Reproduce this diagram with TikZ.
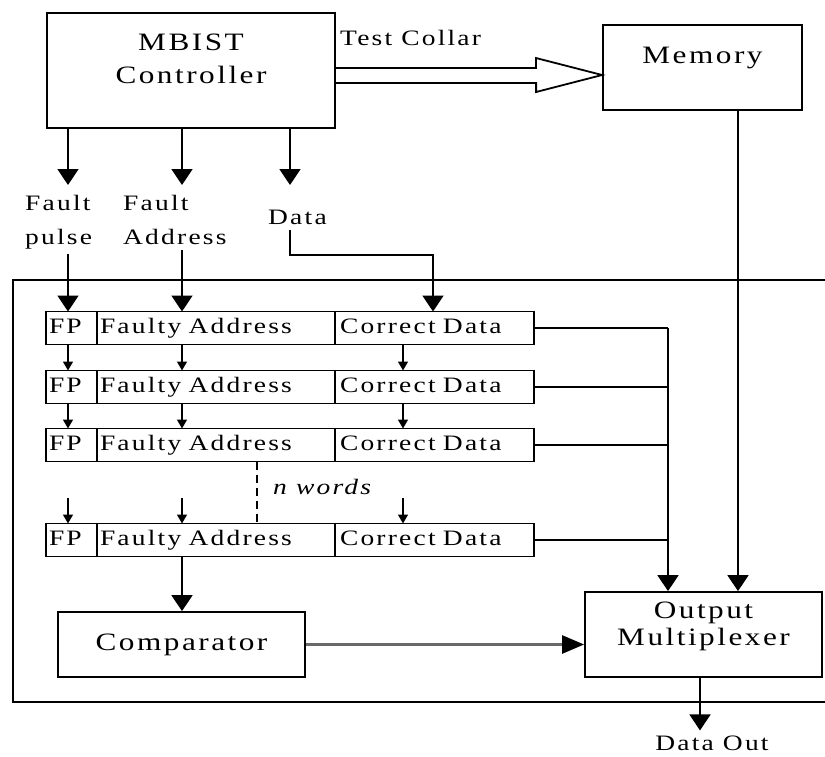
\documentclass[tikz,border=0pt]{standalone}
\usepackage{fontspec}
\setmainfont{Liberation Serif}[FakeStretch=1.25, LetterSpace=10]
\usepackage{tikz}
\usetikzlibrary{positioning, arrows.meta, calc}
\definecolor{wire}{RGB}{105,105,105}
\newcommand{\blkfont}{\fontsize{25}{33}\selectfont}
\newcommand{\cellfont}{\fontsize{22}{34}\selectfont}

\begin{document}
\begin{tikzpicture}[x=1pt, y=-1pt,
  blk/.style={draw, line width=1.8pt, align=center, font=\blkfont, inner sep=0pt},
  cell/.style={draw, line width=1.8pt, outer sep=0pt, minimum height=33pt, inner ysep=0pt, inner xsep=3pt,
    align=left, font=\cellfont, text height=15pt, text depth=5pt},
  lbl/.style={font=\cellfont, align=left, inner sep=5pt},
  arr/.style={line width=1.8pt, -{Triangle[width=21pt,length=16pt]}},
  sarr/.style={line width=1.5pt, -{Triangle[width=10pt,length=9pt]}},
  garr/.style={line width=2.6pt, draw=wire, -{Triangle[width=18pt,length=22pt,color=black]}},
  hollow/.style={line width=1.8pt, line join=miter}]
\useasboundingbox (0,0) rectangle (825,756);
% top row
\node[blk, minimum width=288pt, minimum height=115pt, text height=50pt, text depth=25pt] (mbist) at (191,70.5) {MBIST\\Controller};
\node[blk, minimum width=199pt, minimum height=85pt, text height=17pt, text depth=26pt] (memory) at (702.5,67.5) {Memory};
\node[lbl, anchor=base west, inner sep=0pt] (tclbl) at (340,45) {Test Collar};
\coordinate (ctip) at ([yshift=-7.5pt]memory.west);
\draw[hollow] ([yshift=2.5pt]mbist.east) -- ++(200,0) -- ++(0,-10) -- (ctip) -- ++(-66,17) -- ++(0,-9) -- ([yshift=-12.5pt]mbist.east);
% columns
\coordinate (xfp) at (68,0);
\coordinate (xfa) at (182,0);
\coordinate (xdat) at (290,0);
\coordinate (xdash) at (257,0);
\coordinate (xcd) at (403,0);
\coordinate (xbus) at (668,0);
\coordinate (xmem) at (738,0);
\coordinate (xout) at (700,0);
\coordinate (tips) at (0,185);
\coordinate (gap) at (0,498);
\coordinate (dturn) at (433,255);
% signals
\node[lbl, anchor=north west] (fplbl) at (20,190) {Fault\\pulse};
\node[lbl, anchor=north west] (falbl) at (118,190) {Fault\\Address};
\node[lbl, anchor=north west] (datlbl) at (263,205) {Data};
\foreach \c in {xfp, xfa, xdat}
  \draw[arr] (mbist.south -| \c) -- (tips -| \c);
% word store
\draw[line width=1.8pt] (825,280) -- (13,280) -- (13,702) -- (825,702);
\foreach \r/\y in {1/328, 2/387, 3/445, 4/540}{
  \node[cell, text width=45pt, anchor=west] (fp\r) at (46,\y) {FP};
  \node[cell, text width=232pt, right=0pt of fp\r] (fa\r) {Faulty Address};
  \node[cell, text width=189pt, inner xsep=5pt, right=0pt of fa\r] (cd\r) {Correct Data};
}
\draw[arr] (fplbl.south -| xfp) -- (fp1.north -| xfp);
\draw[arr] (falbl.south -| xfa) -- (fa1.north -| xfa);
\draw[arr] (datlbl.south -| xdat) |- (dturn) -- (cd1.north -| dturn);
\foreach \c in {xfp, xfa, xcd}{
  \draw[sarr] (fp1.south -| \c) -- (fp2.north -| \c);
  \draw[sarr] (fp2.south -| \c) -- (fp3.north -| \c);
  \draw[sarr] (gap -| \c) -- (fp4.north -| \c);
}
\draw[line width=1.8pt, dash pattern=on 8pt off 5pt] (fa3.south -| xdash) -- (fa4.north -| xdash);
\node[font=\cellfont\itshape, anchor=west, inner sep=0pt] (nw) at (273,487) {n words};
% output side
\node[blk, minimum width=247pt, minimum height=65pt] (comp) at (181.5,644.5) {Comparator};
\node[blk, minimum width=237pt, minimum height=85pt, text height=44pt, text depth=23pt] (mux) at (703.5,634.5) {Output\\[-6pt]Multiplexer};
\node[lbl] (dout) at (712,743) {Data Out};
\foreach \r in {1,...,4}
  \draw[line width=1.8pt] (cd\r.east) -- (cd\r.east -| xbus);
\draw[arr] (cd1.east -| xbus) -- (mux.north -| xbus);
\draw[arr] (memory.south -| xmem) -- (mux.north -| xmem);
\draw[arr] (fa4.south -| xfa) -- (comp.north -| xfa);
\draw[garr] (comp.east) -- (comp.east -| mux.west);
\draw[arr] (mux.south -| xout) -- (dout.north -| xout);
\end{tikzpicture}
\end{document}
